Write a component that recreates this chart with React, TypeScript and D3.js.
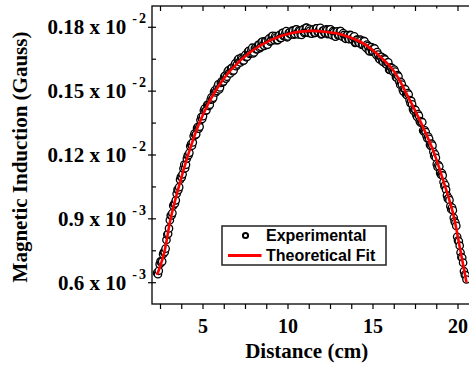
import React from "react";
import * as d3 from "d3";

// Experimental data: distance (cm) and magnetic induction (in 10^-6 Gauss)
const expX = [
  2.3, 2.4, 2.5, 2.6, 2.7, 2.8, 2.9, 3.0, 3.1, 3.2, 3.3, 3.4, 3.5, 3.6, 3.7, 3.8, 3.9, 4.0, 4.1, 4.2,
  4.3, 4.4, 4.5, 4.6, 4.7, 4.8, 4.9, 5.0, 5.1, 5.2, 5.3, 5.4, 5.5, 5.6, 5.7, 5.8, 5.9, 6.0, 6.1, 6.2,
  6.3, 6.4, 6.5, 6.6, 6.7, 6.8, 6.9, 7.0, 7.1, 7.2, 7.3, 7.4, 7.5, 7.6, 7.7, 7.8, 7.9, 8.0, 8.1, 8.2,
  8.3, 8.4, 8.5, 8.6, 8.7, 8.8, 8.9, 9.0, 9.1, 9.2, 9.3, 9.4, 9.5, 9.6, 9.7, 9.8, 9.9, 10.0, 10.1, 10.2,
  10.3, 10.4, 10.5, 10.6, 10.7, 10.8, 10.9, 11.0, 11.1, 11.2, 11.3, 11.4, 11.5, 11.6, 11.7, 11.8, 11.9, 12.0, 12.1, 12.2,
  12.3, 12.4, 12.5, 12.6, 12.7, 12.8, 12.9, 13.0, 13.1, 13.2, 13.3, 13.4, 13.5, 13.6, 13.7, 13.8, 13.9, 14.0, 14.1, 14.2,
  14.3, 14.4, 14.5, 14.6, 14.7, 14.8, 14.9, 15.0, 15.1, 15.2, 15.3, 15.4, 15.5, 15.6, 15.7, 15.8, 15.9, 16.0, 16.1, 16.2,
  16.3, 16.4, 16.5, 16.6, 16.7, 16.8, 16.9, 17.0, 17.1, 17.2, 17.3, 17.4, 17.5, 17.6, 17.7, 17.8, 17.9, 18.0, 18.1, 18.2,
  18.3, 18.4, 18.5, 18.6, 18.7, 18.8, 18.9, 19.0, 19.1, 19.2, 19.3, 19.4, 19.5, 19.6, 19.7, 19.8, 19.9, 20.0, 20.1, 20.2,
  20.3, 20.4, 20.5,
];
const expY = [
  646, 656, 700, 700, 744, 760, 826, 855, 916, 927, 970, 987, 1037, 1049, 1098, 1109, 1155, 1154, 1197, 1210,
  1251, 1259, 1301, 1297, 1332, 1333, 1378, 1382, 1418, 1410, 1436, 1436, 1471, 1469, 1504, 1501, 1532, 1517, 1546, 1545,
  1572, 1568, 1598, 1583, 1608, 1597, 1631, 1625, 1652, 1635, 1652, 1644, 1671, 1662, 1689, 1679, 1704, 1682, 1704, 1697,
  1718, 1708, 1733, 1713, 1733, 1718, 1748, 1737, 1760, 1739, 1752, 1740, 1763, 1750, 1774, 1760, 1782, 1757, 1776, 1766,
  1783, 1769, 1790, 1766, 1782, 1764, 1791, 1778, 1798, 1774, 1785, 1770, 1790, 1774, 1795, 1778, 1797, 1769, 1785, 1772,
  1787, 1771, 1790, 1763, 1777, 1756, 1781, 1765, 1782, 1756, 1764, 1746, 1763, 1744, 1762, 1743, 1758, 1728, 1741, 1725,
  1738, 1719, 1734, 1703, 1712, 1687, 1707, 1687, 1700, 1670, 1672, 1649, 1661, 1637, 1649, 1625, 1635, 1600, 1609, 1590,
  1592, 1563, 1569, 1530, 1531, 1497, 1509, 1481, 1484, 1444, 1438, 1407, 1411, 1379, 1384, 1352, 1354, 1309, 1308, 1278,
  1276, 1243, 1244, 1196, 1187, 1144, 1146, 1108, 1104, 1054, 1037, 995, 988, 945, 940, 888, 867, 798, 774, 720,
  694, 637, 615,
];
const expX2 = [
  2.35, 2.45, 2.55, 2.65, 2.75, 2.85, 2.95, 3.05, 3.15, 3.25, 3.35, 3.45, 3.55, 3.65, 3.75, 3.85, 3.95, 4.05, 4.15, 4.25,
  4.35, 4.45, 4.55, 4.65, 4.75, 4.85, 4.95, 5.05, 5.15, 5.25, 5.35, 5.45, 5.55, 5.65, 5.75, 5.85, 5.95, 6.05, 6.15, 6.25,
  6.35, 6.45, 6.55, 6.65, 6.75, 6.85, 6.95, 7.05, 7.15, 7.25, 7.35, 7.45, 7.55, 7.65, 7.75, 7.85, 7.95, 8.05, 8.15, 8.25,
  8.35, 8.45, 8.55, 8.65, 8.75, 8.85, 8.95, 9.05, 9.15, 9.25, 9.35, 9.45, 9.55, 9.65, 9.75, 9.85, 9.95, 10.05, 10.15, 10.25,
  10.35, 10.45, 10.55, 10.65, 10.75, 10.85, 10.95, 11.05, 11.15, 11.25, 11.35, 11.45, 11.55, 11.65, 11.75, 11.85, 11.95, 12.05, 12.15, 12.25,
  12.35, 12.45, 12.55, 12.65, 12.75, 12.85, 12.95, 13.05, 13.15, 13.25, 13.35, 13.45, 13.55, 13.65, 13.75, 13.85, 13.95, 14.05, 14.15, 14.25,
  14.35, 14.45, 14.55, 14.65, 14.75, 14.85, 14.95, 15.05, 15.15, 15.25, 15.35, 15.45, 15.55, 15.65, 15.75, 15.85, 15.95, 16.05, 16.15, 16.25,
  16.35, 16.45, 16.55, 16.65, 16.75, 16.85, 16.95, 17.05, 17.15, 17.25, 17.35, 17.45, 17.55, 17.65, 17.75, 17.85, 17.95, 18.05, 18.15, 18.25,
  18.35, 18.45, 18.55, 18.65, 18.75, 18.85, 18.95, 19.05, 19.15, 19.25, 19.35, 19.45, 19.55, 19.65, 19.75, 19.85, 19.95, 20.05, 20.15, 20.25,
  20.35, 20.45,
];
const expY2 = [
  640, 687, 695, 734, 744, 801, 830, 894, 916, 962, 972, 1018, 1035, 1084, 1095, 1136, 1138, 1183, 1199, 1241,
  1244, 1289, 1294, 1326, 1324, 1364, 1369, 1409, 1408, 1436, 1430, 1460, 1462, 1497, 1494, 1520, 1508, 1539, 1541, 1569,
  1559, 1592, 1585, 1607, 1594, 1622, 1617, 1647, 1638, 1657, 1642, 1664, 1659, 1686, 1675, 1695, 1677, 1701, 1696, 1718,
  1702, 1730, 1718, 1735, 1717, 1741, 1732, 1757, 1744, 1759, 1740, 1758, 1749, 1773, 1758, 1775, 1753, 1774, 1766, 1785,
  1765, 1789, 1773, 1786, 1765, 1786, 1774, 1797, 1780, 1793, 1771, 1786, 1774, 1795, 1778, 1791, 1767, 1785, 1774, 1790,
  1768, 1790, 1771, 1782, 1758, 1777, 1762, 1782, 1763, 1773, 1749, 1761, 1746, 1764, 1744, 1754, 1727, 1742, 1728, 1742,
  1717, 1736, 1713, 1719, 1691, 1705, 1686, 1702, 1679, 1684, 1654, 1661, 1641, 1654, 1628, 1634, 1601, 1612, 1595, 1601,
  1566, 1575, 1544, 1542, 1506, 1511, 1484, 1491, 1458, 1454, 1416, 1415, 1387, 1392, 1359, 1357, 1315, 1316, 1288, 1287,
  1248, 1253, 1215, 1203, 1157, 1153, 1116, 1115, 1073, 1059, 1010, 998, 959, 953, 905, 881, 816, 794, 742, 717,
  654, 635,
];

// Theoretical fit (10^-6 Gauss)
const fitX = [2.3, 2.71, 3.1, 3.69, 4.28, 4.86, 5.65, 6.63, 7.81, 8.98, 10.16, 11.34, 12.2, 13.24, 14.41, 15.2, 16.18, 16.96, 17.75, 18.53, 19.12, 19.71, 20.1, 20.5];
const fitY = [637, 738, 903, 1083, 1239, 1364, 1490, 1599, 1685, 1740, 1772, 1783, 1779, 1764, 1725, 1678, 1599, 1490, 1364, 1223, 1083, 926, 769, 601];

const xTickValues = [5, 10, 15, 20];
const xTickLabels = ["5", "10", "15", "20"];
const yTickValues = [600, 900, 1200, 1500, 1800];
const yTickMantissa = ["0.6 x 10", "0.9 x 10", "0.12 x 10", "0.15 x 10", "0.18 x 10"];
const yTickExponent = ["3", "3", "2", "2", "2"];

const W = 469;
const H = 367;
const left = 152, top = 6, bottom = 304, right = 475;

export default function App() {
  const x = d3.scaleLinear().domain([2, 21]).range([left, right]);
  const y = d3.scaleLinear().domain([500, 1900]).range([bottom, top]);
  const xMinor = d3.range(2.5, 20.01, 1.25);
  const xTopLong = d3.range(2.5, 20.01, 2.5);
  const yMinor = d3.range(750, 1800, 300);

  const points: [number, number][] = [];
  expX.forEach((xv, i) => {
    points.push([xv, expY[i]]);
    if (i < expX2.length) points.push([expX2[i], expY2[i]]);
  });

  const fitLine = d3
    .line<number>()
    .x((_, i) => x(fitX[i]))
    .y((d) => y(d))
    .curve(d3.curveCatmullRom.alpha(0.5));

  const serif = "'Liberation Serif', 'Times New Roman', serif";
  const sans = "'Liberation Sans', Arial, sans-serif";

  return (
    <svg width={W} height={H} style={{ position: "absolute", left: 0, top: 0, background: "#fff" }}>
      <defs>
        <clipPath id="plotclip">
          <rect x={left} y={top} width={right - left} height={bottom - top} />
        </clipPath>
      </defs>
      <rect x={0} y={0} width={W} height={H} fill="#fff" />

      {/* data */}
      <g clipPath="url(#plotclip)">
        {points.map((p, i) => (
          <circle key={i} cx={x(p[0])} cy={y(p[1])} r={3.7} fill="#fff" stroke="#000" strokeWidth={1.3} />
        ))}
        <path d={fitLine(fitY) || ""} fill="none" stroke="#ff0000" strokeWidth={2.6} />
      </g>

      {/* frame */}
      <rect x={left} y={top} width={right - left} height={bottom - top} fill="none" stroke="#000" strokeWidth={1.3} />

      {/* bottom ticks */}
      {xMinor.map((t, i) => (
        <line key={"bx" + i} x1={x(t)} x2={x(t)} y1={bottom} y2={bottom + 5} stroke="#000" strokeWidth={1.2} />
      ))}
      {/* top ticks */}
      {xMinor.map((t, i) => {
        const long = xTopLong.some((l) => Math.abs(l - t) < 1e-6);
        return (
          <line key={"tx" + i} x1={x(t)} x2={x(t)} y1={top} y2={top + (long ? 5 : 2.5)} stroke="#000" strokeWidth={1.2} />
        );
      })}
      {/* left ticks */}
      {yTickValues.map((t, i) => (
        <line key={"ly" + i} x1={left - 4} x2={left + 4} y1={y(t)} y2={y(t)} stroke="#000" strokeWidth={1.2} />
      ))}
      {yMinor.map((t, i) => (
        <line key={"lm" + i} x1={left} x2={left + 4} y1={y(t)} y2={y(t)} stroke="#000" strokeWidth={1.2} />
      ))}

      {/* x tick labels */}
      {xTickValues.map((t, i) => (
        <text key={"xl" + i} x={x(t)} y={333} textAnchor="middle" fontFamily={serif} fontWeight="bold" fontSize={20} fill="#000">
          {xTickLabels[i]}
        </text>
      ))}
      {/* y tick labels */}
      {yTickValues.map((t, i) => (
        <text key={"yl" + i} x={146} y={y(t) + 7} textAnchor="end" fontFamily={serif} fontWeight="bold" fontSize={21} fill="#000">
          {yTickMantissa[i]}
          <tspan dx={6} dy={-11} fontSize={14}>-</tspan>
          <tspan dx={2} fontSize={14}>{yTickExponent[i]}</tspan>
        </text>
      ))}

      {/* axis titles */}
      <text x={306.7} y={358} textAnchor="middle" fontFamily={serif} fontWeight="bold" fontSize={21} fill="#000">
        Distance (cm)
      </text>
      <text
        transform={`translate(27,157) rotate(-90)`}
        textAnchor="middle"
        fontFamily={serif}
        fontWeight="bold"
        fontSize={21}
        fill="#000"
      >
        Magnetic Induction (Gauss)
      </text>

      {/* legend */}
      <g>
        <rect x={222} y={226} width={164} height={39} fill="#fff" stroke="#222" strokeWidth={1.5} />
        <circle cx={245.5} cy={235.5} r={2.6} fill="#fff" stroke="#000" strokeWidth={2} />
        <text x={266} y={241} fontFamily={sans} fontWeight="bold" fontSize={16} fill="#000">
          Experimental
        </text>
        <line x1={228} x2={261.5} y1={255.5} y2={255.5} stroke="#ff0000" strokeWidth={3} />
        <text x={266} y={261} fontFamily={sans} fontWeight="bold" fontSize={16} fill="#000">
          Theoretical Fit
        </text>
      </g>
    </svg>
  );
}
